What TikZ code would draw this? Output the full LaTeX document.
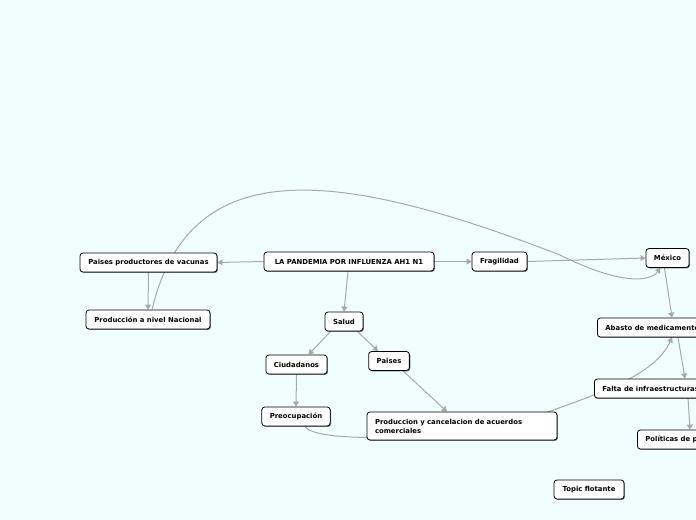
\documentclass[tikz,border=0pt]{standalone}
\usepackage{fontspec}
\setmainfont{DejaVu Sans}
\usetikzlibrary{arrows.meta,shadows,backgrounds}
\definecolor{bg}{HTML}{F0FFFE}
\definecolor{ln}{HTML}{A8A8A8}
\tikzset{
 topic/.style={draw=black, line width=0.8bp, fill=white, rounded corners=3bp,
   font=\bfseries\fontsize{6.9}{9}\selectfont, inner xsep=8bp, inner ysep=2bp, minimum height=19bp,
   drop shadow={shadow xshift=0.9bp, shadow yshift=-0.9bp, fill=black, opacity=0.55}},
 conn/.style={draw=ln, line width=1bp, -{Triangle[length=5bp,width=6bp]}},
}
\begin{document}
\begin{tikzpicture}[x=1bp,y=-1bp]
\useasboundingbox (0,0) rectangle (696,520);
\clip (0,0) rectangle (696,520);
\node[topic, minimum width=170bp] (main) at (349,261.5) {LA PANDEMIA POR INFLUENZA AH1 N1};
\node[topic, minimum width=137bp] (ppv) at (148.5,262.5) {Paises productores de vacunas};
\node[topic, minimum width=124bp] (pnn) at (148,319.5) {Producción a nivel Nacional};
\node[topic, minimum width=55bp] (fra) at (499.5,261.5) {Fragilidad};
\node[topic, minimum width=43bp] (mex) at (667.5,258) {México};
\node[topic, minimum width=38bp] (sal) at (344,321.5) {Salud};
\node[topic, minimum width=61bp] (ciu) at (296.5,364.5) {Ciudadanos};
\node[topic, minimum width=40bp] (pai) at (389,361) {Paises};
\node[topic, text width=174bp, align=left, minimum height=28bp] (pca) at (462,426) {Produccion y cancelacion de acuerdos\\comerciales};
\node[topic, minimum width=68bp] (pre) at (296,416.5) {Preocupación};
\node[topic, anchor=west] (aba) at (597,327.5) {Abasto de medicamentos};
\node[topic, anchor=west] (fal) at (594,388.5) {Falta de infraestructuras};
\node[topic, anchor=west] (pol) at (637,439.5) {Políticas de prevención};
\node[topic, minimum width=70bp] (top) at (589,489.5) {Topic flotante};
\begin{scope}[on background layer]
\fill[bg] (0,0) rectangle (696,520);
\draw[conn] (main.west) -- (ppv.east);
\draw[conn] (main.east) -- (fra.west);
\draw[conn] ([xshift=-1bp]main.south) -- (sal.north);
\draw[conn] (ppv.south) -- (pnn.north);
\draw[conn] (fra.east) -- (mex.west);
\draw[conn] ([xshift=-3bp]mex.south) -- ([xshift=75bp]aba.north west);
\draw[conn] ([xshift=81bp]aba.south west) -- ([xshift=91bp]fal.north west);
\draw[conn] ([xshift=94bp]fal.south west) -- ([xshift=53bp]pol.north west);
\draw[conn] ([xshift=6bp]sal.south west) -- ([xshift=12bp]ciu.north);
\draw[conn] ([xshift=-6bp]sal.south east) -- ([xshift=-11bp]pai.north);
\draw[conn] (ciu.south) -- (pre.north);
\draw[conn] ([xshift=14bp]pai.south) -- ([xshift=-15bp]pca.north);
\draw[conn] ([xshift=4bp]pnn.north) .. controls (190,150) and (340,170) .. (560,255) .. controls (620,285) and (650,282) .. ([xshift=-7bp]mex.south);
\draw[conn] ([xshift=9bp]pre.south) .. controls (315,445) and (470,440) .. (548,412) .. controls (600,393) and (655,375) .. ([xshift=75bp]aba.south west);
\end{scope}
\end{tikzpicture}
\end{document}
